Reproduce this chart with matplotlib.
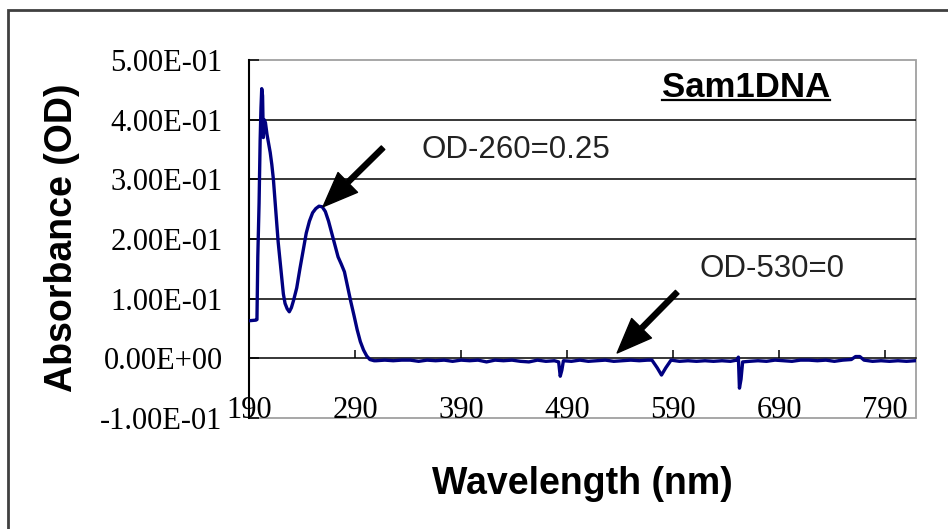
import matplotlib
matplotlib.use('Agg')
import matplotlib.pyplot as plt
from matplotlib.patches import Rectangle
from matplotlib.lines import Line2D

plt.rcParams['font.family'] = ['Liberation Sans', 'DejaVu Sans']

# ---- data ----
wavelength = [190, 196.5, 197.5, 198.3, 199.5, 200.5, 201.3, 202, 202.8, 203.5,
              204.3, 205.5, 207, 208.5, 210, 211.5, 213, 214.5, 216, 217.5,
              219, 220.8, 222.4, 224, 226, 228, 230, 232, 235, 238,
              241, 244, 247, 250, 253, 256, 259, 262, 265, 268,
              271, 274, 277, 280, 283, 286, 289, 292, 295, 298,
              301, 304, 308,
              310, 318, 326, 334, 342, 350, 358, 366, 374, 382,
              390, 398, 406, 414, 422, 430, 438, 446, 454, 462,
              470, 478, 482, 483.5, 485, 486.5, 494, 502, 510, 518,
              526, 534, 542, 550, 558, 566, 570, 575, 579, 583,
              588, 596, 604, 612, 620, 628, 636, 644, 650, 651.5,
              652.5, 654, 655.5, 662, 670, 678, 686, 694, 702, 710,
              718, 726, 734, 742, 750, 758, 762, 766, 770, 778,
              786, 794, 802, 810, 818]
absorbance = [0.063, 0.064, 0.065, 0.17, 0.26, 0.365, 0.42, 0.452, 0.44, 0.37,
              0.40, 0.395, 0.375, 0.36, 0.345, 0.325, 0.30, 0.265, 0.232, 0.195,
              0.168, 0.137, 0.108, 0.092, 0.083, 0.078, 0.085, 0.097, 0.118, 0.150,
              0.180, 0.210, 0.230, 0.244, 0.251, 0.255, 0.254, 0.246, 0.230, 0.210,
              0.190, 0.170, 0.158, 0.145, 0.120, 0.095, 0.072, 0.048, 0.028, 0.014,
              0.004, -0.002, -0.004,
              -0.004, -0.003, -0.004, -0.003, -0.003, -0.005, -0.003, -0.004, -0.003, -0.005,
              -0.003, -0.004, -0.003, -0.006, -0.003, -0.004, -0.003, -0.005, -0.006, -0.003,
              -0.005, -0.004, -0.006, -0.030, -0.020, -0.004, -0.005, -0.003, -0.005, -0.004,
              -0.003, -0.005, -0.004, -0.003, -0.004, -0.003, -0.003, -0.016, -0.028, -0.016,
              -0.003, -0.005, -0.004, -0.005, -0.004, -0.005, -0.004, -0.005, -0.003, 0.002,
              -0.050, -0.035, -0.006, -0.005, -0.004, -0.005, -0.003, -0.004, -0.005, -0.003,
              -0.003, -0.004, -0.003, -0.005, -0.003, -0.002, 0.003, 0.003, -0.003, -0.005,
              -0.004, -0.005, -0.004, -0.005, -0.004]

x_ticks = [190, 290, 390, 490, 590, 690, 790]
y_ticks = [-0.1, 0.0, 0.1, 0.2, 0.3, 0.4, 0.5]
y_tick_labels = ['-1.00E-01', '0.00E+00', '1.00E-01', '2.00E-01',
                 '3.00E-01', '4.00E-01', '5.00E-01']

# annotations: (text, text pos, arrow tail, arrow tip)
ann_texts = ['OD-260=0.25', 'OD-530=0']
ann_text_pos = [(353, 0.336), (615, 0.1365)]
ann_tail = [(316.4, 0.353), (593.8, 0.111)]
ann_tip = [(259.8, 0.254), (537.2, 0.009)]

W, H = 948, 529
fig = plt.figure(figsize=(W / 100, H / 100), dpi=100)
ax = fig.add_axes([249 / W, 1 - 418 / H, 667 / W, 358 / H])

ax.plot(wavelength, absorbance, color='#000080', lw=2.4, zorder=3)
ax.set_xlim(190, 819)
ax.set_ylim(-0.1, 0.5)

ax.set_xticks(x_ticks)
ax.set_xticklabels([str(t) for t in x_ticks])
ax.set_yticks(y_ticks)
ax.set_yticklabels(y_tick_labels)

for y in y_ticks[2:-1]:
    ax.axhline(y, color='black', lw=1.1, zorder=1)

ax.spines['top'].set_visible(False)
ax.spines['right'].set_visible(False)
ax.spines['bottom'].set_position(('data', 0))
ax.spines['bottom'].set_color('black')
ax.spines['bottom'].set_linewidth(1.1)
ax.spines['left'].set_color('black')
ax.spines['left'].set_linewidth(1.5)
ax.add_patch(Rectangle((0, 0), 1, 1, transform=ax.transAxes, fill=False,
                       edgecolor='#a0a0a0', lw=1.3, zorder=0.5, clip_on=False))

ax.tick_params(axis='x', direction='in', length=6, width=1.1, pad=27, labelsize=22)
ax.tick_params(axis='y', direction='in', length=7.5, width=1.1, pad=19, labelsize=22)
for lab in ax.get_xticklabels() + ax.get_yticklabels():
    lab.set_fontfamily('Liberation Serif')

for txt, pos, tail, tip in zip(ann_texts, ann_text_pos, ann_tail, ann_tip):
    ax.annotate('', xy=tip, xytext=tail,
                arrowprops=dict(facecolor='black', edgecolor='black', width=3.6,
                                headwidth=20, headlength=25, shrink=0))
    ax.text(pos[0], pos[1], txt, fontsize=22.5, color='#222222',
            ha='left', va='baseline')

t = ax.text(0.619, 0.897, 'Sam1DNA', transform=ax.transAxes, fontsize=25,
            fontweight='bold', ha='left', va='baseline')

fig.text(582 / W, 1 - 484 / H, 'Wavelength (nm)', fontsize=27,
         fontweight='bold', ha='center', va='center')
fig.text(62.5 / W, 1 - 238 / H, 'Absorbance (OD)', fontsize=27,
         fontweight='bold', rotation=90, ha='center', va='center')

# 外框
fig.add_artist(Rectangle((8 / W, -0.1), 1.2, 1.1 - 10 / H, transform=fig.transFigure,
                         fill=False, edgecolor='#404040', lw=2))

# 下划线
fig.canvas.draw()
bb = t.get_window_extent(fig.canvas.get_renderer())
base_y = ax.transAxes.transform((0.619, 0.897))[1] - 3
fig.add_artist(Line2D([bb.x0 / W, bb.x1 / W], [base_y / H, base_y / H],
                      transform=fig.transFigure, color='black', lw=1.6))

fig.savefig('out.png', dpi=100)
